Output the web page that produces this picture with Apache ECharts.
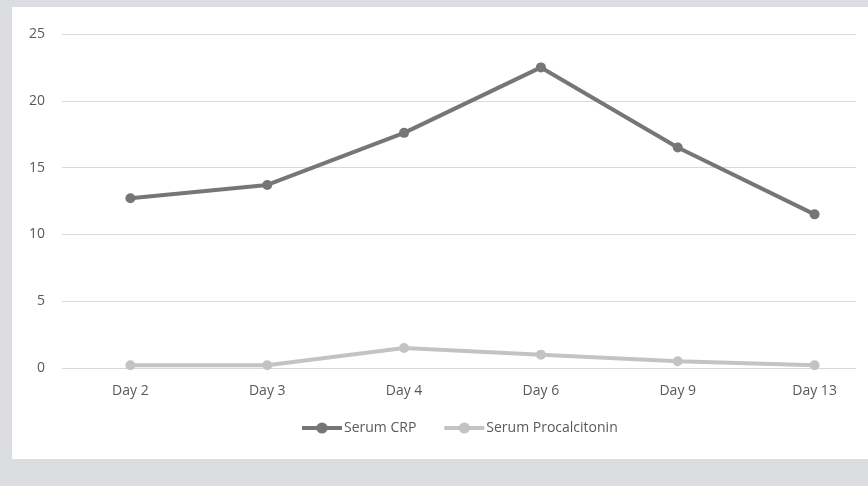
<!DOCTYPE html>
<html>
<head>
<meta charset="utf-8">
<script src="https://cdn.jsdelivr.net/npm/echarts@6/dist/echarts.min.js"></script>
<style>
html,body{margin:0;padding:0;width:868px;height:486px;background:#dcdde0;overflow:hidden;}
#panel{position:absolute;left:12px;top:7px;width:856px;height:452px;background:#ffffff;}
#chart{width:856px;height:452px;}
</style>
</head>
<body>
<div id="panel"><div id="chart"></div></div>
<script>
const categories = ['Day 2', 'Day 3', 'Day 4', 'Day 6', 'Day 9', 'Day 13'];
const serumCRP = [12.7, 13.7, 17.6, 22.5, 16.5, 11.5];
const serumProcalcitonin = [0.2, 0.2, 1.5, 1.0, 0.5, 0.2];
const yMin = 0, yMax = 25, yStep = 5;

const font = 'Open Sans';
const textColor = '#595959';
const chart = echarts.init(document.getElementById('chart'), null, {renderer: 'canvas'});
chart.setOption({
  animation: false,
  textStyle: {fontFamily: font},
  grid: [
    {left: 50, top: 27, height: 334, width: 821, outerBoundsMode: 'none', containLabel: false},
    {left: 50, top: 27, height: 334, width: 794, outerBoundsMode: 'none', containLabel: false}
  ],
  xAxis: [
    {
      gridIndex: 0, type: 'category', data: categories, boundaryGap: true,
      axisLine: {show: false}, axisTick: {show: false}, splitLine: {show: false},
      axisLabel: {color: textColor, fontFamily: font, fontSize: 14, margin: 16}
    },
    {gridIndex: 1, type: 'value', show: false}
  ],
  yAxis: [
    {gridIndex: 0, type: 'value', min: yMin, max: yMax, interval: yStep, show: false},
    {
      gridIndex: 1, type: 'value', min: yMin, max: yMax, interval: yStep,
      axisLine: {show: false}, axisTick: {show: false},
      splitLine: {show: true, lineStyle: {color: '#d9d9d9', width: 1}},
      axisLabel: {color: textColor, fontFamily: font, fontSize: 14, margin: 17}
    }
  ],
  legend: {
    left: 288, top: 414, padding: 0, itemWidth: 40, itemHeight: 14, itemGap: 26,
    lineStyle: {width: 4},
    textStyle: {color: textColor, fontFamily: font, fontSize: 14, padding: [0, 0, 0, -3]},
    data: ['Serum CRP', 'Serum Procalcitonin']
  },
  series: [
    {
      name: 'Serum CRP', type: 'line', xAxisIndex: 0, yAxisIndex: 0,
      data: serumCRP, symbol: 'circle', symbolSize: 10,
      lineStyle: {color: '#767676', width: 4},
      itemStyle: {color: '#767676'}
    },
    {
      name: 'Serum Procalcitonin', type: 'line', xAxisIndex: 0, yAxisIndex: 0,
      data: serumProcalcitonin, symbol: 'circle', symbolSize: 10,
      lineStyle: {color: '#c3c3c3', width: 4},
      itemStyle: {color: '#c3c3c3'}
    }
  ]
});
</script>
</body>
</html>
